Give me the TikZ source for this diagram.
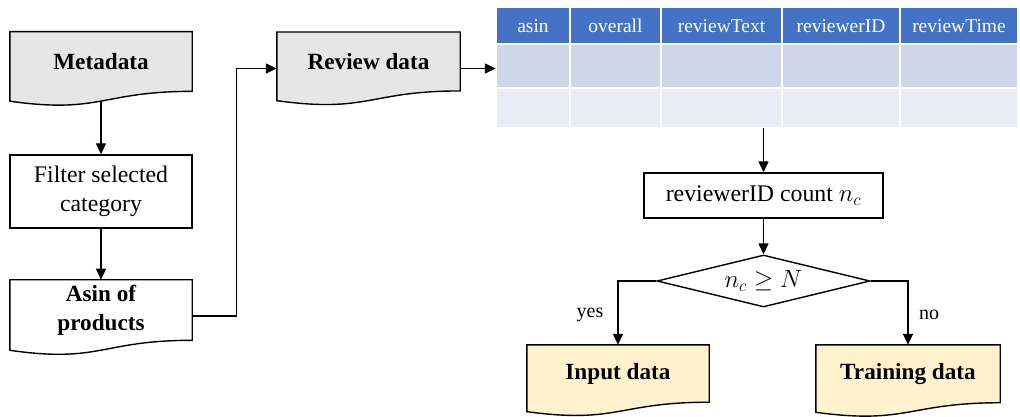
\documentclass[tikz,border=0pt]{standalone}
\usepackage{fontspec}
\setmainfont{Liberation Serif}
\usetikzlibrary{arrows.meta,shapes.geometric,calc,backgrounds}
\definecolor{docgray}{HTML}{E7E6E6}
\definecolor{docyel}{HTML}{FFF2CC}
\definecolor{hdr}{HTML}{4472C4}
\definecolor{rowa}{HTML}{CFD5EA}
\definecolor{rowb}{HTML}{E9EBF5}
\newcommand\docpath[2]{%
  \path[draw, fill=#2, line width=1.4pt]
    let \p1=(#1.north west), \p2=(#1.south east),
        \n1={\x2-\x1}, \n2={\y1-\y2} in
    (\x1,\y1) -- (\x2,\y1) -- (\x2,\y2)
    .. controls ({\x1+0.5*\n1},\y2) and ({\x1+0.5*\n1},{\y1-1.380*\n2}) ..
    (\x1,{\y1-1.165*\n2}) -- cycle;}
\begin{document}
\begin{tikzpicture}[x=1pt,y=-1pt,
  lw/.style={line width=1.4pt},
  arr/.style={lw, -{Triangle[length=11pt,width=10pt]}},
  main/.style={font=\fontsize{23.8}{29.5}\selectfont, align=center, inner sep=0pt},
  boxn/.style={main, draw, lw, rectangle},
  docn/.style={main, font=\fontsize{23.2}{29}\selectfont\bfseries},
  cellt/.style={font=\fontsize{19.5}{22}\selectfont, text=white, inner sep=0pt},
  lbl/.style={font=\fontsize{20}{24}\selectfont, inner sep=0pt}]
\useasboundingbox (0,0) rectangle (1020,417);

% left column
\node[docn, minimum width=182pt, minimum height=59.3pt] (meta) at (101,61.5) {Metadata};
\node[boxn, minimum width=182pt, minimum height=73pt] (filter) at (101,191.5) {Filter selected\\category};
\node[docn, minimum width=182pt, minimum height=60.2pt] (asin) at (101,310) {Asin of\\products};
\node[docn, minimum width=183pt, minimum height=58.5pt] (review) at (368.5,61.5) {Review data};

% table
\node[minimum width=522pt, minimum height=121pt, inner sep=0pt] (tbl) at (757,67.5) {};
\foreach \a/\b/\t [count=\i] in {496/570/asin, 570/661/overall, 661/782/reviewText, 782/900/reviewerID, 900/1018/reviewTime}{
  \path[fill=hdr, draw=white, line width=2pt] (\a,7) rectangle (\b,44);
  \path[fill=rowa, draw=white, line width=2pt] (\a,44) rectangle (\b,88);
  \path[fill=rowb, draw=white, line width=2pt] (\a,88) rectangle (\b,128);
  \node[cellt] (h\i) at ({(\a+\b)/2},26) {\t};
}

% right column
\node[boxn, minimum width=239pt, minimum height=45pt] (cnt) at (763.5,195.5) {reviewerID count $n_c$};
\node[main, diamond, draw, lw, minimum width=213pt, minimum height=52pt, aspect=4] (dia) at (763.5,281) {$n_c \geq N$};
\node[docn, minimum width=182pt, minimum height=57pt] (input) at (618,373.5) {Input data};
\node[docn, minimum width=184pt, minimum height=57.5pt] (train) at (908,373.8) {Training data};

\node[lbl] (yes) at (590,315) {yes};
\node[lbl] (no) at (929,315) {no};

\begin{scope}[on background layer]
  \docpath{meta}{docgray}
  \docpath{asin}{white}
  \docpath{review}{docgray}
  \docpath{input}{docyel}
  \docpath{train}{docyel}
\end{scope}

% connectors
\draw[arr] ([yshift=-9.7pt]meta.south) -- (filter.north);
\draw[arr] (filter.south) -- (asin.north);
\draw[arr] ([yshift=-6pt]asin.east) -- ++(44,0) |- ([yshift=-7pt]review.west);
\draw[arr] ([yshift=-7pt]review.east) -- ([yshift=-7pt]review.east -| tbl.west);
\draw[arr] (cnt.north |- tbl.south) -- (cnt.north);
\draw[arr] (cnt.south) -- (dia.north);
\draw[arr] (dia.west) -| (input.north);
\draw[arr] (dia.east) -| (train.north);
\end{tikzpicture}
\end{document}
